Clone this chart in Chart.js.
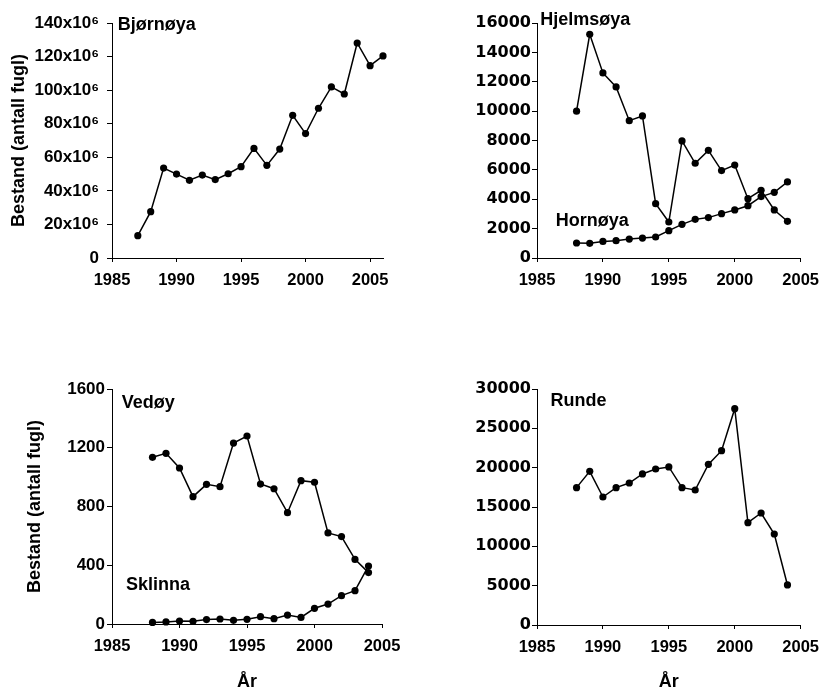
<!DOCTYPE html>
<html>
<head>
<meta charset="utf-8">
<script src="https://cdn.jsdelivr.net/npm/chart.js@4.4.1/dist/chart.umd.min.js"></script>
<style>
  html, body { margin: 0; padding: 0; background: #fff; overflow: hidden; }
  body { width: 828px; height: 689px; position: relative; }
  .panel { position: absolute; }
</style>
</head>
<body>
<div class="panel" style="left:0;top:0;width:414px;height:300px"><canvas id="bjornoya"></canvas></div>
<div class="panel" style="left:414px;top:0;width:414px;height:300px"><canvas id="hjelmsoya"></canvas></div>
<div class="panel" style="left:0;top:345px;width:414px;height:352px"><canvas id="vedoy"></canvas></div>
<div class="panel" style="left:414px;top:345px;width:414px;height:352px"><canvas id="runde"></canvas></div>
<script>
// years
var years8706 = [1987, 1988, 1989, 1990, 1991, 1992, 1993, 1994, 1995, 1996, 1997, 1998, 1999, 2000, 2001, 2002, 2003, 2004, 2005, 2006];
var years8804 = [1988, 1989, 1990, 1991, 1992, 1993, 1994, 1995, 1996, 1997, 1998, 1999, 2000, 2001, 2002, 2003, 2004];

// population (x10^6 for Bjørnøya)
var bjornoyaValues = [13.3, 27.6, 53.6, 50.0, 46.3, 49.4, 46.7, 50.2, 54.4, 65.3, 55.2, 64.9, 85.0, 74.1, 89.2, 101.9, 97.7, 128.1, 114.6, 120.4];
var hjelmsoyaValues = [10000, 15230, 12600, 11650, 9350, 9670, 3700, 2450, 7970, 6450, 7330, 5950, 6330, 4040, 4610, 3270, 2500];
var hornoyaValues = [1020, 1000, 1130, 1180, 1290, 1360, 1430, 1860, 2290, 2630, 2750, 3020, 3270, 3560, 4180, 4470, 5180];
var vedoyValues = [1135, 1162, 1062, 867, 951, 935, 1232, 1280, 953, 921, 758, 976, 965, 620, 595, 440, 350];
var sklinnaValues = [11, 14, 20, 18, 30, 34, 25, 32, 50, 36, 61, 45, 107, 136, 193, 227, 395];
var rundeValues = [17460, 19530, 16270, 17460, 18050, 19200, 19830, 20090, 17460, 17160, 20420, 22160, 27500, 13010, 14240, 11570, 5090];

var xTickValues = [1985, 1990, 1995, 2000, 2005];

var FONT = '"Liberation Sans", Arial, sans-serif';

// island names written inside the plot, placed in data units
var islandLabels = {
  id: 'islandLabels',
  afterDatasetsDraw: function(chart, args, opts) {
    var ctx = chart.ctx, x = chart.scales.x, y = chart.scales.y;
    ctx.save();
    ctx.font = 'bold 18px ' + FONT;
    ctx.fillStyle = '#000';
    ctx.textAlign = 'left';
    ctx.textBaseline = 'middle';
    (opts.items || []).forEach(function(it) {
      ctx.fillText(it.text, x.getPixelForValue(it.x), y.getPixelForValue(it.y));
    });
    ctx.restore();
  }
};

function series(years, values) {
  return {
    data: years.map(function(yr, i) { return { x: yr, y: values[i] }; }),
    borderColor: '#000',
    borderWidth: 1.5,
    pointRadius: 3.6,
    pointBackgroundColor: '#000',
    pointBorderWidth: 0,
    tension: 0,
    clip: false
  };
}

function makeChart(id, o) {
  return new Chart(document.getElementById(id), {
    type: 'line',
    data: { datasets: o.datasets },
    options: {
      responsive: true,
      maintainAspectRatio: false,
      animation: false,
      layout: { padding: o.padding },
      plugins: {
        legend: { display: false },
        tooltip: { enabled: false },
        islandLabels: { items: o.notes }
      },
      scales: {
        x: {
          type: 'linear',
          min: 1985,
          max: o.xMax,
          afterBuildTicks: function(s) {
            s.ticks = xTickValues.map(function(v) { return { value: v }; });
          },
          afterFit: function(s) { s.height = o.xHeight; },
          grid: { drawOnChartArea: false, drawTicks: true, tickLength: 4, color: '#000' },
          border: { display: true, color: '#000', width: 1 },
          ticks: {
            color: '#000',
            padding: 9,
            maxRotation: 0,
            font: { family: FONT, size: 16.5, weight: 'bold' },
            callback: function(v) { return String(v); }
          },
          title: {
            display: !!o.xTitle,
            text: o.xTitle || '',
            color: '#000',
            font: { family: FONT, size: 18, weight: 'bold' }
          }
        },
        y: {
          min: 0,
          max: o.yMax,
          ticks: {
            stepSize: o.yStep,
            color: '#000',
            padding: o.yPad,
            font: { family: o.yFont, size: o.yFontSize, weight: 'bold' },
            callback: o.yFormat
          },
          afterFit: function(s) { s.width = o.yWidth; },
          grid: { drawOnChartArea: false, drawTicks: true, tickLength: 5, color: '#000' },
          border: { display: true, color: '#000', width: 1 },
          title: {
            display: !!o.yTitle,
            text: o.yTitle || '',
            color: '#000',
            font: { family: FONT, size: 18, weight: 'bold' }
          }
        }
      }
    },
    plugins: [islandLabels]
  });
}

function plain(v) { return String(v); }

makeChart('bjornoya', {
  datasets: [series(years8706, bjornoyaValues)],
  xMax: 2006, yMax: 140, yStep: 20,
  yFormat: function(v) { return v === 0 ? '0' : v + 'x10\u2076'; },
  yFont: FONT, yFontSize: 17, yPad: 8,
  yTitle: 'Bestand (antall fugl)',
  padding: { left: 4, right: 31, top: 23, bottom: 0 },
  yWidth: 108, xHeight: 42,
  notes: [{ text: 'Bjørnøya', x: 1985.45, y: 139 }]
});

makeChart('hjelmsoya', {
  datasets: [series(years8804, hjelmsoyaValues), series(years8804, hornoyaValues)],
  xMax: 2005, yMax: 16000, yStep: 2000,
  yFormat: plain,
  yFont: '"DejaVu Sans", sans-serif', yFontSize: 16, yPad: 1,
  padding: { left: 0, right: 20, top: 23, bottom: 0 },
  yWidth: 123, xHeight: 42,
  notes: [
    { text: 'Hjelmsøya', x: 1985.25, y: 16230 },
    { text: 'Hornøya', x: 1986.43, y: 2520 }
  ]
});

makeChart('vedoy', {
  datasets: [series(years8804, vedoyValues), series(years8804, sklinnaValues)],
  xMax: 2005, yMax: 1600, yStep: 400,
  yFormat: plain,
  yFont: FONT, yFontSize: 17, yPad: 2,
  yTitle: 'Bestand (antall fugl)',
  xTitle: 'År',
  padding: { left: 20, right: 32, top: 44, bottom: 0 },
  yWidth: 92, xHeight: 73,
  notes: [
    { text: 'Vedøy', x: 1985.72, y: 1503 },
    { text: 'Sklinna', x: 1986.04, y: 266 }
  ]
});

makeChart('runde', {
  datasets: [series(years8804, rundeValues)],
  xMax: 2005, yMax: 30000, yStep: 5000,
  yFormat: plain,
  yFont: '"DejaVu Sans", sans-serif', yFontSize: 16, yPad: 1,
  xTitle: 'År',
  padding: { left: 0, right: 20, top: 44, bottom: 0 },
  yWidth: 123, xHeight: 72,
  notes: [{ text: 'Runde', x: 1986.03, y: 28475 }]
});
</script>
</body>
</html>
